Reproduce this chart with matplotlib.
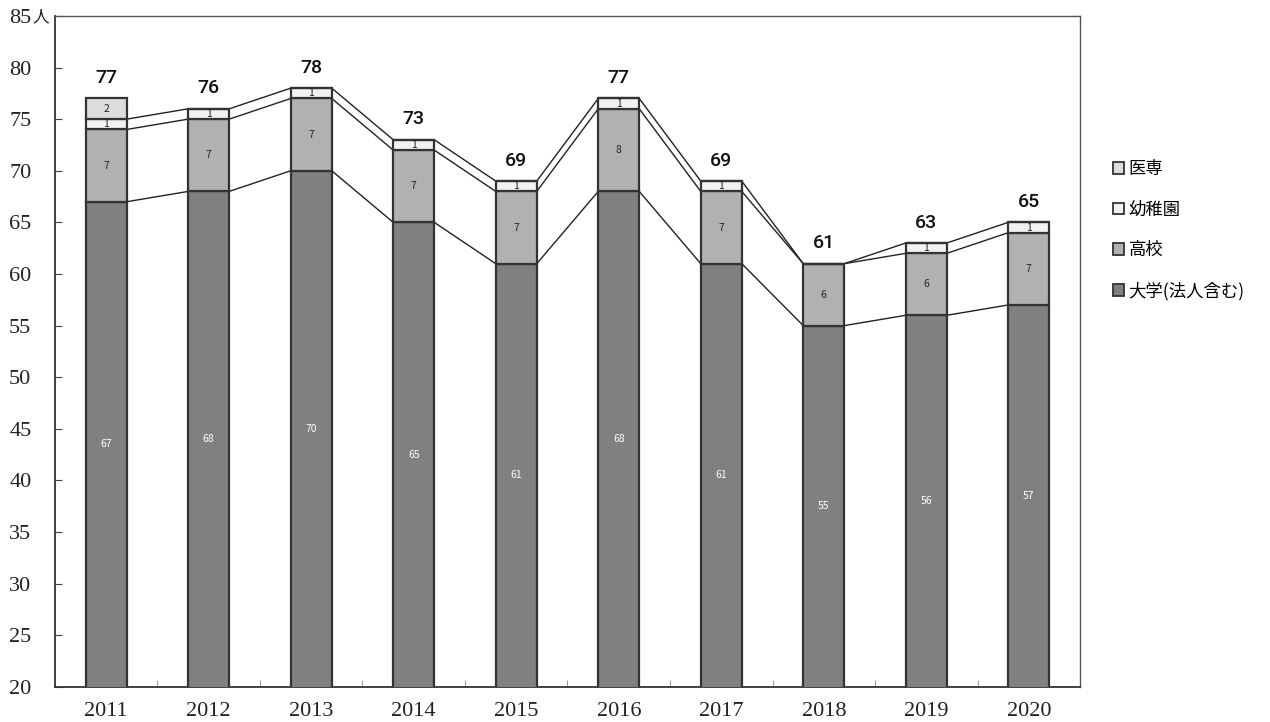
import numpy as np
import matplotlib
matplotlib.use("Agg")
import matplotlib.pyplot as plt
from matplotlib.ticker import MultipleLocator

# Data
years = ["2011", "2012", "2013", "2014", "2015", "2016", "2017", "2018", "2019", "2020"]
daigaku = [67, 68, 70, 65, 61, 68, 61, 55, 56, 57]
koukou = [7, 7, 7, 7, 7, 8, 7, 6, 6, 7]
youchien = [1, 1, 1, 1, 1, 1, 1, 0, 1, 1]
isen = [2, 0, 0, 0, 0, 0, 0, 0, 0, 0]
series_names = ["大学(法人含む)", "高校", "幼稚園", "医専"]
series_colors = ["#808083", "#b1b1b4", "#f2f2f2", "#dcdcdc"]

plt.rcParams["font.family"] = ["Noto Sans CJK JP", "DejaVu Sans"]

fig = plt.figure(figsize=(12.7, 7.22), dpi=100)
ax = fig.add_axes([0.0433, 0.0485, 0.8071, 0.9295])

y_min, y_max = 20, 85
x = np.arange(len(years))
width = 0.40
series = [daigaku, koukou, youchien, isen]
bottom = np.zeros(len(years))
tops = []
for k, (vals, name, col) in enumerate(zip(series, series_names, series_colors)):
    vals = np.array(vals, dtype=float)
    ax.bar(x, vals, width, bottom=bottom, color=col,
           edgecolor="#333333", linewidth=1.6, label=name, zorder=3)
    for i, v in enumerate(vals):
        if v > 0:
            lo = max(bottom[i], y_min)
            ax.text(x[i], (lo + bottom[i] + v) / 2, f"{int(v)}", ha="center",
                    va="center", fontsize=7.5,
                    color="white" if k == 0 else "#222222", zorder=4)
    bottom = bottom + vals
    tops.append(bottom.copy())

# series lines for the first three stacks
for t in tops[:3]:
    for i in range(len(years) - 1):
        ax.plot([x[i] + width / 2, x[i + 1] - width / 2], [t[i], t[i + 1]],
                color="#222222", linewidth=1.0, zorder=2)

totals = tops[-1]
for i, tot in enumerate(totals):
    ax.text(x[i], tot + 1.1, f"{int(tot)}", ha="center", va="bottom",
            fontsize=14, fontweight="medium", color="#111111",
            family=["Roboto", "DejaVu Sans"])

ax.set_xlim(-0.5, len(years) - 0.5)
ax.set_ylim(y_min, y_max)
ax.yaxis.set_major_locator(MultipleLocator(5))
ax.set_xticks(x)
ax.set_xticklabels(years)
ax.set_xticks(x[:-1] + 0.5, minor=True)
ax.tick_params(axis="x", which="major", length=0, pad=11)
ax.tick_params(axis="x", which="minor", direction="in", length=5, color="#888888")
ax.tick_params(axis="y", direction="in", length=5, pad=17, color="#444444")
for lab in ax.get_xticklabels() + ax.get_yticklabels():
    lab.set_family(["Liberation Serif", "DejaVu Serif"])
    lab.set_fontsize(16)
    lab.set_color("#222222")

ax.annotate("人", xy=(0, y_max), xycoords=("axes fraction", "data"),
            xytext=(-16, -1), textcoords="offset points", ha="left", va="center",
            fontsize=12, color="#222222")

for s in ax.spines.values():
    s.set_color("#555555")
    s.set_linewidth(1.0)
ax.spines["left"].set_color("#333333")
ax.spines["bottom"].set_color("#333333")
ax.spines["left"].set_linewidth(1.3)
ax.spines["bottom"].set_linewidth(1.3)

handles, labels = ax.get_legend_handles_labels()
leg = fig.legend(handles[::-1], labels[::-1], loc="upper left",
                 bbox_to_anchor=(0.864, 0.80), frameon=False, fontsize=12.5,
                 handlelength=0.65, handleheight=0.65, handletextpad=0.25,
                 labelspacing=1.3)
for h in leg.legend_handles:
    h.set_linewidth(1.3)

fig.savefig("out.png", dpi=100)
